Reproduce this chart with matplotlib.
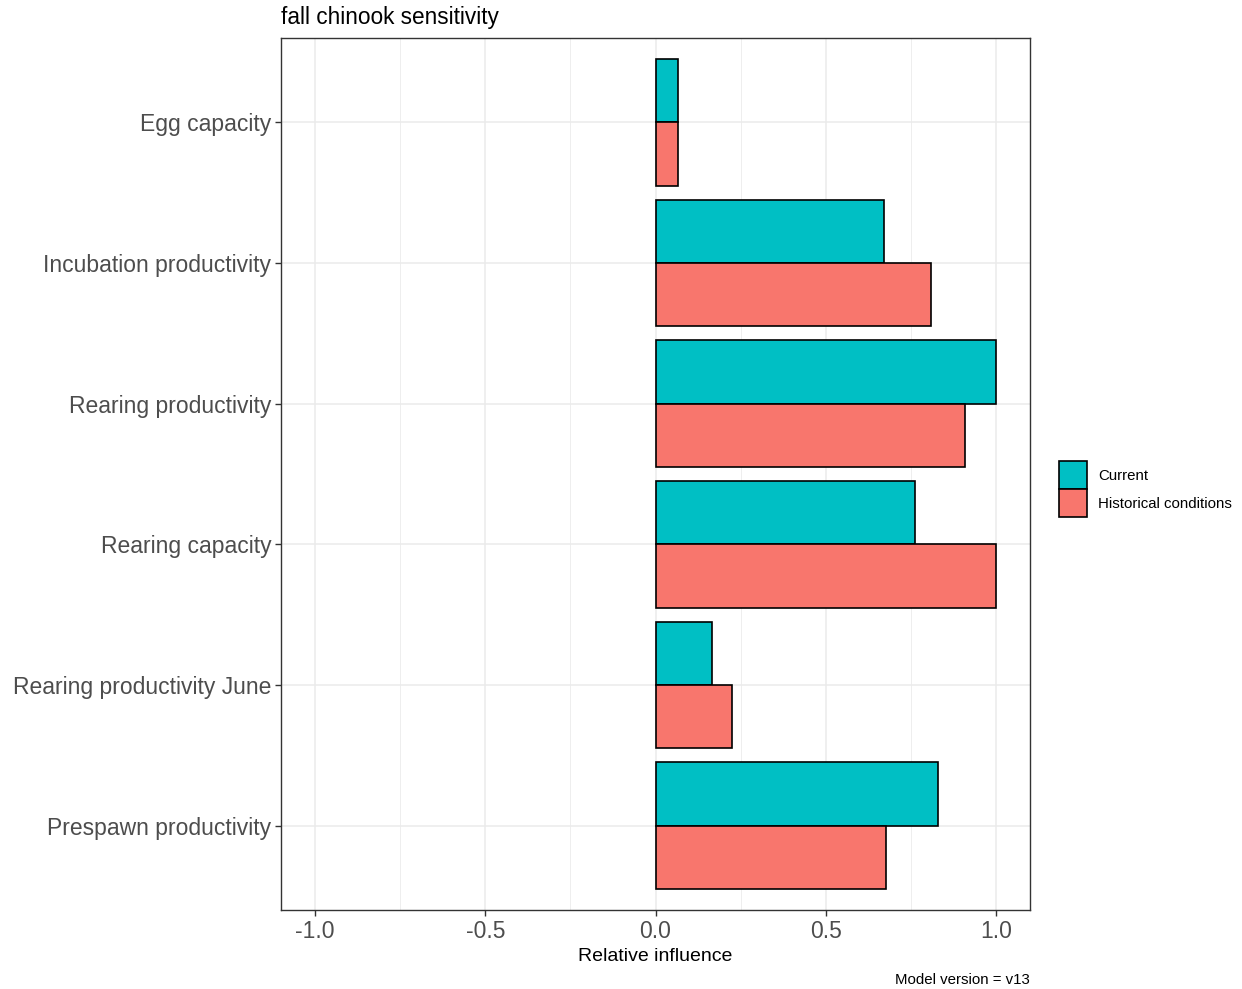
import matplotlib
matplotlib.use("Agg")
import matplotlib.pyplot as plt
from matplotlib.patches import Patch
import numpy as np

plt.rcParams['font.family'] = ['Liberation Sans', 'DejaVu Sans']

categories = ["Egg capacity", "Incubation productivity", "Rearing productivity",
              "Rearing capacity", "Rearing productivity June", "Prespawn productivity"]
current = [0.065, 0.672, 1.0, 0.762, 0.167, 0.830]
historical = [0.065, 0.809, 0.909, 1.0, 0.226, 0.677]
series_names = ["Current", "Historical conditions"]
colors = ["#00BFC4", "#F8766D"]

xticks = [-1.0, -0.5, 0.0, 0.5, 1.0]
xticklabels = ["-1.0", "-0.5", "0.0", "0.5", "1.0"]

fig = plt.figure(figsize=(12.42, 9.89), dpi=100)
ax = fig.add_axes([281/1242, 1 - 910/989, (1030 - 281)/1242, (910 - 38)/989])

n = len(categories)
ypos = np.arange(n)[::-1] + 1  # first category at the top
h = 0.45

ax.barh(ypos + h/2, current, height=h, color=colors[0], edgecolor="black", linewidth=1.2, zorder=3)
ax.barh(ypos - h/2, historical, height=h, color=colors[1], edgecolor="black", linewidth=1.2, zorder=3)

ax.set_xlim(-1.1, 1.1)
ax.set_ylim(0.4, n + 0.6)

ax.set_xticks(xticks)
ax.set_xticklabels(xticklabels)
ax.set_xticks([-0.75, -0.25, 0.25, 0.75], minor=True)
ax.set_yticks(ypos)
ax.set_yticklabels(categories)

ax.grid(True, which="major", color="#EBEBEB", linewidth=1.1, zorder=0)
ax.grid(True, which="minor", axis="x", color="#EBEBEB", linewidth=0.6, zorder=0)
ax.set_axisbelow(True)

for s in ax.spines.values():
    s.set_color("#333333")
    s.set_linewidth(1.0)

ax.tick_params(axis="both", which="major", length=4, width=1, color="#333333",
               labelcolor="#4D4D4D", labelsize=16.5, pad=3)
ax.tick_params(axis="both", which="minor", length=0)

ax.set_xlabel("Relative influence", fontsize=14, color="black", labelpad=4)
ax.set_title("fall chinook sensitivity", fontsize=16.3, loc="left", pad=10)

fig.text(1030/1242, 1 - 980/989, "Model version = v13", ha="right", va="center", fontsize=10.8)

handles = [Patch(facecolor=colors[0], edgecolor="black", linewidth=1.2),
           Patch(facecolor=colors[1], edgecolor="black", linewidth=1.2)]
fig.legend(handles, series_names, loc="center left", bbox_to_anchor=(1051/1242, 1 - 489/989),
           frameon=False, fontsize=10.8, handlelength=1.87, handleheight=2.5,
           handletextpad=0.75, labelspacing=0.0, borderpad=0)

fig.savefig("out.png", dpi=100)
